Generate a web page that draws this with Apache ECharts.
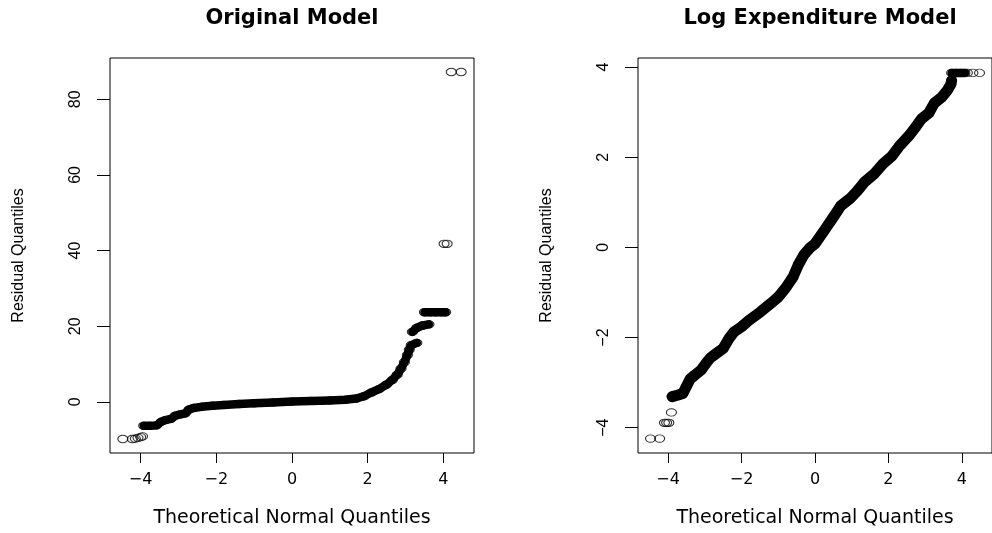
<!DOCTYPE html>
<html>
<head>
<meta charset="utf-8">
<title>Residual QQ plots</title>
<script src="https://cdn.jsdelivr.net/npm/echarts@6/dist/echarts.min.js"></script>
<style>
  html, body { margin: 0; padding: 0; background: #fff; }
  #chart { width: 992px; height: 533px; }
</style>
</head>
<body>
<div id="chart"></div>
<script>
  // tick labels
  const xTicks = [-4, -2, 0, 2, 4];
  const origYTicks = [0, 20, 40, 60, 80];
  const logYTicks = [-4, -2, 0, 2, 4];

  // original model, [theoretical quantile, residual quantile]
  const origBand = [
    [-3.92, -6.3], [-3.75, -6.3], [-3.58, -6.2], [-3.45, -5.2], [-3.35, -4.8],
    [-3.2, -4.5], [-3.08, -3.6], [-2.95, -3.3], [-2.82, -3.0], [-2.72, -2.0],
    [-2.6, -1.6], [-2.4, -1.3], [-2.1, -1.0], [-1.8, -0.8], [-1.4, -0.55],
    [-1.0, -0.35], [-0.5, -0.15], [0, 0.1], [0.5, 0.25], [1.0, 0.4],
    [1.4, 0.55], [1.7, 0.9], [1.9, 1.5], [2.1, 2.5], [2.3, 3.4],
    [2.5, 4.6], [2.65, 5.8], [2.78, 7.2], [2.88, 8.8], [2.97, 10.5],
    [3.05, 12.4], [3.1, 13.8], [3.15, 15.0], [3.3, 15.6]
  ];
  const origStep = [[3.18, 18.5], [3.3, 19.6], [3.45, 20.2], [3.62, 20.5]];
  const origPlateau = [[3.5, 23.7], [3.65, 23.7], [3.8, 23.7], [3.95, 23.7], [4.06, 23.7]];
  const origLoose = [
    [-4.47, -9.8], [-4.22, -9.8], [-4.14, -9.7], [-4.07, -9.5], [-4.0, -9.3], [-3.95, -9.1],
    [4.02, 41.8], [4.1, 41.8], [4.21, 87.2], [4.47, 87.2]
  ];

  // log expenditure model
  const logBand = [
    [-3.89, -3.31], [-3.75, -3.28], [-3.6, -3.24], [-3.5, -3.08], [-3.4, -2.92],
    [-3.27, -2.83], [-3.1, -2.72], [-2.95, -2.55], [-2.85, -2.45], [-2.7, -2.36],
    [-2.5, -2.24], [-2.35, -2.03], [-2.2, -1.87], [-2.0, -1.76], [-1.8, -1.62],
    [-1.5, -1.44], [-1.2, -1.24], [-1.0, -1.1], [-0.8, -0.9], [-0.6, -0.66],
    [-0.45, -0.38], [-0.3, -0.16], [-0.15, -0.02], [0, 0.08], [0.25, 0.37],
    [0.5, 0.67], [0.7, 0.92], [0.95, 1.08], [1.15, 1.25], [1.35, 1.45],
    [1.6, 1.62], [1.85, 1.85], [2.1, 2.03], [2.3, 2.25], [2.55, 2.47],
    [2.75, 2.68], [2.9, 2.85], [3.1, 2.98], [3.25, 3.2], [3.45, 3.33],
    [3.6, 3.48], [3.7, 3.62], [3.72, 3.7]
  ];
  const logPlateau = [[3.72, 3.87], [3.85, 3.87], [3.97, 3.87], [4.08, 3.87]];
  const logLoose = [
    [-4.48, -4.24], [-4.23, -4.24], [-4.1, -3.89], [-4.04, -3.89], [-3.98, -3.89], [-3.91, -3.66],
    [4.15, 3.87], [4.3, 3.87], [4.48, 3.87]
  ];

  const hFont = 'DejaVu Sans';
  const vFont = 'Liberation Sans';
  const minus = v => (v < 0 ? '\u2212' + (-v) : String(v));

  function xAxisFor (gridIndex, lim) {
    return {
      type: 'value', gridIndex: gridIndex, min: -lim, max: lim,
      name: 'Theoretical Normal Quantiles', nameLocation: 'middle', nameGap: 56,
      nameTextStyle: { fontFamily: hFont, fontSize: 19, color: '#000' },
      axisLine: { show: false, onZero: false },
      axisTick: { show: true, length: 10, customValues: xTicks, lineStyle: { color: '#000' } },
      axisLabel: { customValues: xTicks, formatter: minus, margin: 19, fontFamily: hFont, fontSize: 16, color: '#000' },
      splitLine: { show: false }
    };
  }

  function yAxisFor (gridIndex, min, max, ticks) {
    return {
      type: 'value', gridIndex: gridIndex, min: min, max: max,
      name: 'Residual Quantiles', nameLocation: 'middle', nameGap: 83,
      nameTextStyle: { fontFamily: vFont, fontSize: 16, color: '#000' },
      axisLine: { show: false, onZero: false },
      axisTick: { show: true, length: 13, customValues: ticks, lineStyle: { color: '#000' } },
      axisLabel: { customValues: ticks, formatter: minus, rotate: 90, margin: 26, fontFamily: vFont, fontSize: 16, color: '#000' },
      splitLine: { show: false }
    };
  }

  // thick stroke standing in for the dense run of overlapping circles
  function band (idx, data, width) {
    return {
      type: 'line', xAxisIndex: idx, yAxisIndex: idx, data: data,
      showSymbol: false, silent: true,
      lineStyle: { color: '#000', width: width, cap: 'round', join: 'round' }
    };
  }

  function points (idx, data) {
    return {
      type: 'scatter', xAxisIndex: idx, yAxisIndex: idx, data: data,
      symbol: 'circle', symbolSize: [10, 7.4], silent: true,
      itemStyle: { color: 'transparent', borderColor: '#000', borderWidth: 1 }
    };
  }

  const titleStyle = { fontFamily: hFont, fontWeight: 'bold', fontSize: 21, color: '#000' };

  const chart = echarts.init(document.getElementById('chart'));
  chart.setOption({
    animation: false,
    backgroundColor: '#fff',
    title: [
      { text: 'Original Model', left: 292, top: 8, textAlign: 'center', padding: 0, textStyle: titleStyle },
      { text: 'Log Expenditure Model', left: 820, top: 8, textAlign: 'center', padding: 0, textStyle: titleStyle }
    ],
    grid: [
      { left: 110, top: 58, right: 518, bottom: 80, show: true, borderColor: '#000', borderWidth: 1, backgroundColor: 'transparent' },
      { left: 638, top: 58, right: -10, bottom: 80, show: true, borderColor: '#000', borderWidth: 1, backgroundColor: 'transparent' }
    ],
    xAxis: [xAxisFor(0, 4.81), xAxisFor(1, 4.82)],
    yAxis: [yAxisFor(0, -13.5, 90.9, origYTicks), yAxisFor(1, -4.56, 4.2, logYTicks)],
    series: [
      band(0, origBand, 8.5), band(0, origStep, 8.5), band(0, origPlateau, 8.5),
      points(0, origBand.concat(origStep, origPlateau, origLoose)),
      band(1, logBand, 11), band(1, logPlateau, 8.5),
      points(1, logBand.concat(logPlateau, logLoose))
    ]
  });
</script>
</body>
</html>
